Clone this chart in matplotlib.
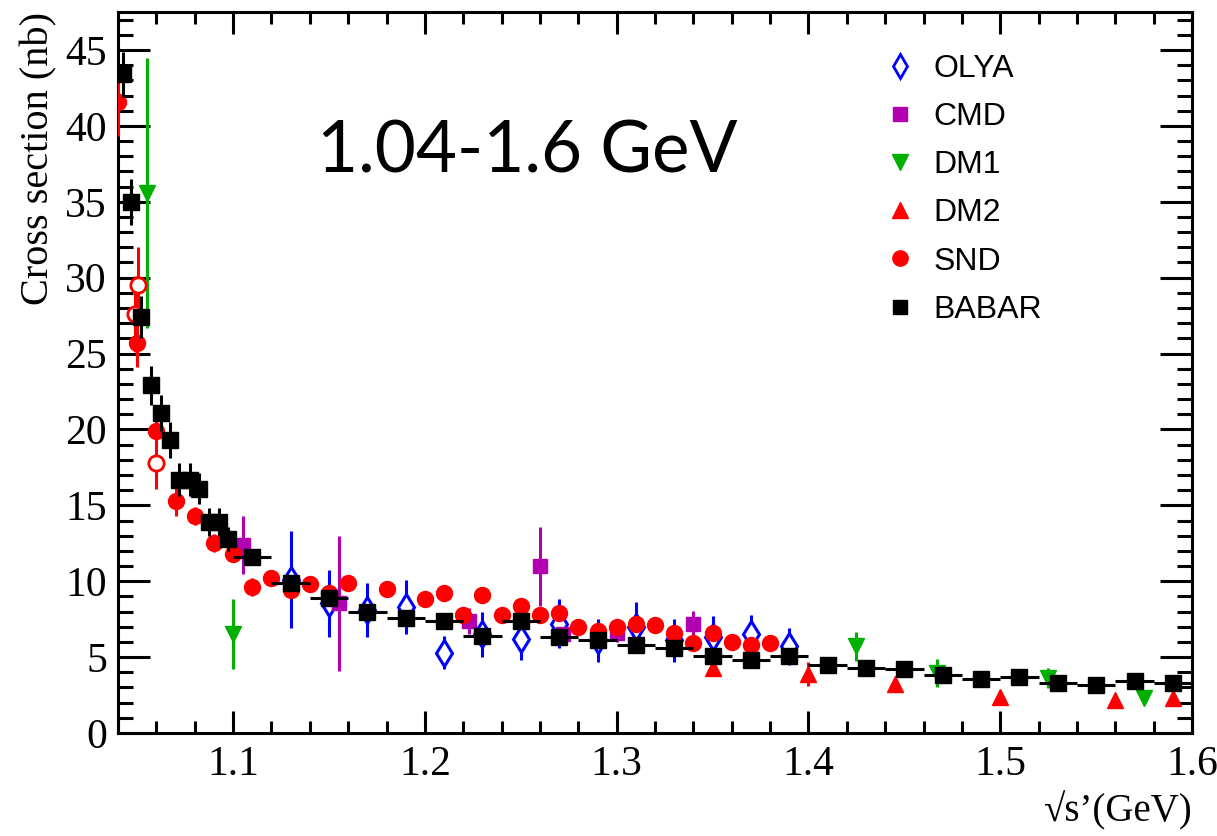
import matplotlib
matplotlib.use("Agg")
import matplotlib.pyplot as plt
from matplotlib.lines import Line2D
from matplotlib.ticker import MultipleLocator

plt.rcParams['font.family'] = ['Liberation Serif', 'DejaVu Serif']

# BABAR
babar_x = [1.0425, 1.047, 1.052, 1.057, 1.0625, 1.067, 1.072, 1.0775, 1.082, 1.0875,
           1.0925, 1.0975, 1.11, 1.13, 1.15, 1.17, 1.19, 1.21, 1.23, 1.25, 1.27, 1.29,
           1.31, 1.33, 1.35, 1.37, 1.39, 1.41, 1.43, 1.45, 1.47, 1.49, 1.51, 1.53, 1.55,
           1.57, 1.59]
babar_y = [43.4, 35.0, 27.4, 22.9, 21.1, 19.3, 16.7, 16.7, 16.1, 13.9,
           13.9, 12.8, 11.6, 9.9, 8.9, 8.0, 7.6, 7.4, 6.4, 7.4, 6.3, 6.1,
           5.8, 5.6, 5.1, 4.8, 5.1, 4.5, 4.3, 4.2, 3.8, 3.55, 3.7, 3.3, 3.15,
           3.4, 3.3]
babar_ey = [1.5, 1.5, 1.4, 1.3, 1.2, 1.2, 1.1, 1.1, 1.0, 0.9,
            0.9, 0.8, 0.5, 0.5, 0.5, 0.5, 0.4, 0.4, 0.4, 0.4, 0.4, 0.4,
            0.3, 0.3, 0.3, 0.3, 0.3, 0.3, 0.3, 0.3, 0.3, 0.2, 0.2, 0.2, 0.2,
            0.2, 0.2]
babar_ex = [0.0] * 12 + [0.01] * 25

# SND filled
snd_x = [1.04, 1.05, 1.06, 1.07, 1.08, 1.09, 1.10, 1.11, 1.12, 1.13, 1.14, 1.15,
         1.16, 1.18, 1.20, 1.21, 1.22, 1.23, 1.24, 1.25, 1.26, 1.27, 1.28, 1.29,
         1.30, 1.31, 1.32, 1.33, 1.34, 1.35, 1.36, 1.37, 1.38]
snd_y = [41.6, 25.7, 19.9, 15.3, 14.3, 12.5, 11.8, 9.6, 10.2, 9.4, 9.8, 9.2,
         9.9, 9.5, 8.8, 9.2, 7.8, 9.1, 7.8, 8.4, 7.8, 7.9, 7.0, 6.7,
         7.0, 7.2, 7.1, 6.6, 5.9, 6.6, 6.0, 5.8, 5.9]
snd_ey = [2.3, 1.6, 1.0, 1.0, 0.6, 0.6, 0.5, 0.6, 0.5, 0.5, 0.5, 0.5,
          0.5, 0.4, 0.4, 0.5, 0.4, 0.5, 0.4, 0.4, 0.4, 0.4, 0.4, 0.4,
          0.4, 0.4, 0.3, 0.4, 0.3, 0.4, 0.3, 0.3, 0.3]

# SND open circles
snd_open_x = [1.0505, 1.049, 1.06]
snd_open_y = [29.5, 27.6, 17.8]
snd_open_ey = [2.5, 2.5, 1.7]

# OLYA
olya_x = [1.13, 1.15, 1.17, 1.19, 1.21, 1.23, 1.25, 1.27, 1.29, 1.31, 1.33, 1.35, 1.37, 1.39]
olya_y = [10.1, 8.55, 8.1, 8.3, 5.3, 6.5, 6.2, 7.2, 6.1, 7.0, 6.1, 6.3, 6.5, 5.7]
olya_ey = [3.2, 2.2, 1.8, 1.8, 1.1, 1.5, 1.4, 1.6, 1.4, 1.6, 1.4, 1.4, 1.3, 1.2]

# CMD
cmd_x = [1.105, 1.155, 1.223, 1.26, 1.272, 1.30, 1.34]
cmd_y = [12.4, 8.55, 7.4, 11.0, 6.5, 6.6, 7.2]
cmd_ey = [1.9, 4.45, 0.85, 2.6, 0.7, 0.6, 0.85]

# DM1
dm1_x = [1.055, 1.10, 1.425, 1.467, 1.525, 1.575]
dm1_y = [35.6, 6.5, 5.7, 3.95, 3.6, 2.3]
dm1_ey = [8.9, 2.3, 0.95, 0.9, 0.65, 0.0]

# DM2
dm2_x = [1.35, 1.40, 1.445, 1.50, 1.56, 1.59]
dm2_y = [4.3, 3.9, 3.2, 2.4, 2.2, 2.3]
dm2_ey = [0.3, 0.8, 0.2, 0.2, 0.2, 0.2]

fig = plt.figure(figsize=(12.17, 8.36), dpi=100)
ax = fig.add_axes([0.097, 0.1232, 0.8825, 0.8624])

eb = dict(ls='none', capsize=0, elinewidth=2.2)
ax.errorbar(olya_x, olya_y, yerr=olya_ey, fmt='d', color='#0000ff', ms=13,
            mfc='white', mew=2.2, zorder=3, **eb)
ax.errorbar(cmd_x, cmd_y, yerr=cmd_ey, fmt='s', color='#b000b0', ms=10.5, zorder=3, **eb)
ax.errorbar(dm1_x, dm1_y, yerr=dm1_ey, fmt='v', color='#00b000', ms=12, zorder=3, **eb)
ax.errorbar(dm2_x, dm2_y, yerr=dm2_ey, fmt='^', color='#ff0000', ms=12, zorder=3, **eb)
ax.errorbar(snd_x, snd_y, yerr=snd_ey, fmt='o', color='#ff0000', ms=11.5, zorder=4, **eb)
ax.errorbar(snd_open_x, snd_open_y, yerr=snd_open_ey, fmt='o', color='#ff0000', ms=11,
            mfc='white', mew=2, zorder=4, **eb)
ax.errorbar(babar_x, babar_y, xerr=babar_ex, yerr=babar_ey, fmt='s', color='black',
            ms=11.5, zorder=5, **eb)

ax.set_xlim(1.04, 1.6)
ax.set_ylim(0, 47.5)

ax.xaxis.set_major_locator(MultipleLocator(0.1))
ax.xaxis.set_minor_locator(MultipleLocator(0.02))
ax.yaxis.set_major_locator(MultipleLocator(5))
ax.yaxis.set_minor_locator(MultipleLocator(1))
ax.tick_params(axis='both', which='both', direction='in', top=True, right=True,
               width=2.2, labelsize=30)
ax.tick_params(axis='x', which='major', length=16, pad=9)
ax.tick_params(axis='x', which='minor', length=8.5)
ax.tick_params(axis='y', which='major', length=23, pad=8)
ax.tick_params(axis='y', which='minor', length=11)
ax.xaxis.set_major_formatter(plt.FuncFormatter(lambda v, p: '' if v < 1.05 else '%g' % round(v, 1)))
for sp in ax.spines.values():
    sp.set_linewidth(2.2)

ax.set_ylabel('Cross section (nb)', fontsize=29, loc='top', labelpad=6)
ax.set_xlabel("\u221as\u2019(GeV)", fontsize=28, ha='right', va='top')
ax.xaxis.set_label_coords(1.0, -0.08)

ax.text(0.185, 0.778, '1.04-1.6 GeV', transform=ax.transAxes, fontsize=51,
        family='Lato', ha='left', va='baseline')

handles = [
    Line2D([], [], ls='none', marker='d', color='#0000ff', mfc='white', mew=2, ms=12),
    Line2D([], [], ls='none', marker='s', color='#b000b0', ms=10),
    Line2D([], [], ls='none', marker='v', color='#00b000', ms=11),
    Line2D([], [], ls='none', marker='^', color='#ff0000', ms=11),
    Line2D([], [], ls='none', marker='o', color='#ff0000', ms=11),
    Line2D([], [], ls='none', marker='s', color='black', ms=10),
]
labels = ['OLYA', 'CMD', 'DM1', 'DM2', 'SND', 'BABAR']
leg = ax.legend(handles, labels, loc='upper left', bbox_to_anchor=(0.686, 0.982),
                frameon=False, prop={'family': 'Liberation Sans', 'size': 23},
                handlelength=1.0, handletextpad=0.55, labelspacing=0.57)

fig.savefig('out.png', dpi=100)
